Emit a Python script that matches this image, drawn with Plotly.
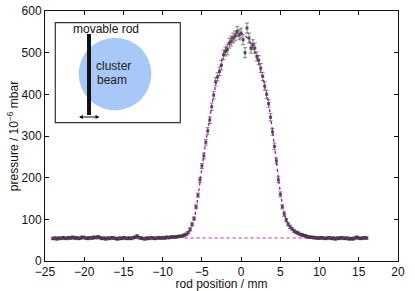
import plotly.graph_objects as go

# ---------------- data ----------------
rod_pos = [
    -24.00, -23.75, -23.50, -23.25, -23.00, -22.75, -22.50, -22.25, -22.00, -21.75,
    -21.50, -21.25, -21.00, -20.75, -20.50, -20.25, -20.00, -19.75, -19.50, -19.25,
    -19.00, -18.75, -18.50, -18.25, -18.00, -17.75, -17.50, -17.25, -17.00, -16.75,
    -16.50, -16.25, -16.00, -15.75, -15.50, -15.25, -15.00, -14.75, -14.50, -14.25,
    -14.00, -13.75, -13.50, -13.25, -13.00, -12.75, -12.50, -12.25, -12.00, -11.75,
    -11.50, -11.25, -11.00, -10.75, -10.50, -10.25, -10.00, -9.75, -9.50, -9.25,
    -9.00, -8.75, -8.50, -8.25, -8.00, -7.75, -7.50, -7.25, -7.00, -6.75,
    -6.50, -6.25, -6.00, -5.75, -5.50, -5.25, -5.00, -4.75, -4.50, -4.25,
    -4.00, -3.75, -3.50, -3.25, -3.00, -2.75, -2.50, -2.25, -2.00, -1.75,
    -1.50, -1.25, -1.00, -0.75, -0.50, -0.25, 0.00, 0.25, 0.50, 0.75,
    1.00, 1.25, 1.50, 1.75, 2.00, 2.25, 2.50, 2.75, 3.00, 3.25,
    3.50, 3.75, 4.00, 4.25, 4.50, 4.75, 5.00, 5.25, 5.50, 5.75,
    6.00, 6.25, 6.50, 6.75, 7.00, 7.25, 7.50, 7.75, 8.00, 8.25,
    8.50, 8.75, 9.00, 9.25, 9.50, 9.75, 10.00, 10.25, 10.50, 10.75,
    11.00, 11.25, 11.50, 11.75, 12.00, 12.25, 12.50, 12.75, 13.00, 13.25,
    13.50, 13.75, 14.00, 14.25, 14.50, 14.75, 15.00, 15.25, 15.50, 15.75,
    16.00,
]
pressure = [
    54, 55, 53, 55, 54, 56, 55, 54, 56, 55,
    57, 55, 56, 54, 55, 57, 56, 55, 54, 56,
    55, 57, 56, 58, 56, 54, 55, 53, 55, 54,
    56, 55, 54, 53, 55, 54, 56, 55, 54, 55,
    54, 56, 57, 60, 56, 55, 54, 53, 55, 54,
    56, 55, 54, 55, 56, 55, 56, 55, 57, 56,
    57, 58, 57, 58, 59, 59, 60, 62, 64, 68,
    76, 88, 102, 130, 158, 195, 228, 252, 285, 312,
    338, 370, 398, 430, 442, 455, 470, 495, 503, 507,
    523, 528, 535, 540, 551, 543, 547, 531, 500, 559,
    535, 511, 519, 511, 491, 482, 463, 443, 420, 400,
    378, 345, 310, 275, 240, 195, 160, 130, 112, 98,
    88, 82, 77, 72, 69, 67, 64, 63, 61, 60,
    58, 57, 57, 56, 56, 55, 55, 56, 55, 54,
    55, 56, 54, 55, 53, 55, 54, 56, 55, 54,
    55, 53, 54, 53, 55, 57, 55, 54, 55, 56,
    55,
]
pressure_err = [
    3, 3, 3, 3, 3, 3, 3, 3, 3, 3,
    3, 3, 3, 3, 3, 3, 3, 3, 3, 3,
    3, 3, 3, 3, 3, 3, 3, 3, 3, 3,
    3, 3, 3, 3, 3, 3, 3, 3, 3, 3,
    3, 3, 3, 3, 3, 3, 3, 3, 3, 3,
    3, 3, 3, 3, 3, 3, 3, 3, 3, 3,
    3, 3, 3, 3, 3, 3, 3, 3, 3, 3,
    4, 4, 4, 5, 5, 6, 6, 7, 7, 8,
    8, 9, 9, 10, 10, 10, 11, 11, 11, 12,
    12, 12, 12, 12, 12, 12, 12, 12, 12, 12,
    12, 12, 12, 12, 11, 11, 11, 10, 10, 10,
    9, 9, 8, 8, 7, 7, 6, 5, 5, 4,
    4, 4, 3, 3, 3, 3, 3, 3, 3, 3,
    3, 3, 3, 3, 3, 3, 3, 3, 3, 3,
    3, 3, 3, 3, 3, 3, 3, 3, 3, 3,
    3, 3, 3, 3, 3, 3, 3, 3, 3, 3,
    3,
]

fit_pos = [-24, -16, -10, -9, -8, -7.5, -7, -6.5, -6, -5.5, -5, -4.5, -4, -3.5, -3,
           -2.5, -2, -1.5, -1, -0.5, 0, 0.5, 1, 1.5, 2, 2.5, 3, 3.5, 4, 4.5, 5,
           5.5, 6, 6.5, 7, 7.5, 8, 8.5, 9, 10, 12, 16]
fit_pressure = [55, 55, 55.5, 56, 57.5, 59, 63, 74, 100, 155, 222, 285, 342, 398, 442,
                480, 508, 527, 540, 547, 547, 541, 530, 512, 488, 458, 422, 378, 312, 238, 165,
                115, 89, 75, 67, 62, 58.5, 57, 56, 55.5, 55, 55]

baseline_pos = [-7.2, 9.5]
baseline_pressure = [55, 55]

x_ticks = [-25, -20, -15, -10, -5, 0, 5, 10, 15, 20]
y_ticks = [0, 100, 200, 300, 400, 500, 600]

# ---------------- figure ----------------
W, H = 415, 291
ML, MR, MT, MB = 45, 17, 11, 30
PW, PH = W - ML - MR, H - MT - MB


def px(xp):
    return (xp - ML) / PW


def py(yp):
    return (H - MB - yp) / PH


fig = go.Figure()

fig.add_trace(go.Scatter(
    x=baseline_pos, y=baseline_pressure, mode="lines",
    line=dict(color="#d070d0", width=1.5, dash="dot"),
    showlegend=False, hoverinfo="skip"))

fig.add_trace(go.Scatter(
    x=rod_pos, y=pressure, mode="markers",
    marker=dict(symbol="square", size=3, color="rgba(50,50,50,0.8)"),
    error_y=dict(type="data", array=pressure_err, visible=True,
                 color="rgba(70,70,70,0.65)", thickness=1, width=2),
    showlegend=False))

fig.add_trace(go.Scatter(
    x=fit_pos, y=fit_pressure, mode="lines", line_shape="spline",
    line=dict(color="#a0149a", width=1.3, dash="dot"),
    showlegend=False, hoverinfo="skip"))

# inset illustration
shapes = [
    dict(type="rect", xref="paper", yref="paper",
         x0=px(55.3), x1=px(180.3), y0=py(122.7), y1=py(22.7),
         line=dict(color="#333333", width=1.2), fillcolor="white", layer="above"),
    dict(type="circle", xref="paper", yref="paper",
         x0=px(78.7), x1=px(151.3), y0=py(110.3), y1=py(37.7),
         line=dict(width=0), fillcolor="#a8c8f8", layer="above"),
    dict(type="rect", xref="paper", yref="paper",
         x0=px(87), x1=px(91), y0=py(115), y1=py(34),
         line=dict(width=0), fillcolor="#111111", layer="above"),
]

font = "Liberation Sans, Arial, sans-serif"
annotations = [
    dict(xref="paper", yref="paper", x=px(106), y=py(29.5), text="movable rod",
         xanchor="center", yanchor="middle",
         showarrow=False, font=dict(size=12, color="#111", family=font)),
    dict(xref="paper", yref="paper", x=px(113), y=py(66), text="cluster",
         xanchor="center", yanchor="middle",
         showarrow=False, font=dict(size=12, color="#222", family=font)),
    dict(xref="paper", yref="paper", x=px(112), y=py(80), text="beam",
         xanchor="center", yanchor="middle",
         showarrow=False, font=dict(size=12, color="#222", family=font)),
    dict(xref="paper", yref="paper", x=px(99.5), y=py(117), ax=-22, ay=0,
         axref="pixel", ayref="pixel", text=" ", showarrow=True,
         arrowside="end+start", arrowhead=2, arrowsize=0.8, arrowwidth=1,
         arrowcolor="#111", font=dict(size=1)),
]

axis_common = dict(
    showgrid=False, zeroline=False, showline=True, linecolor="#111", linewidth=1,
    mirror="ticks", ticks="inside", ticklen=4, tickwidth=1, tickcolor="#111",
    tickfont=dict(size=12, color="#111", family=font), automargin=False,
)

fig.update_layout(
    width=W, height=H,
    margin=dict(l=ML, r=MR, t=MT, b=MB, pad=0, autoexpand=False),
    paper_bgcolor="white", plot_bgcolor="white",
    font=dict(family=font, size=12, color="#111"),
    xaxis=dict(range=[-25, 20], tickvals=x_ticks,
               title=dict(text="rod position / mm", standoff=0,
                          font=dict(size=12, family=font)),
               **axis_common),
    yaxis=dict(range=[0, 600], tickvals=y_ticks,
               title=dict(text="pressure / 10<sup>−6</sup> mbar", standoff=0,
                          font=dict(size=12, family=font)),
               **axis_common),
    shapes=shapes, annotations=annotations,
)

fig.write_html("out.html", config={"displayModeBar": False},
               post_script="document.body.style.margin='0';document.body.style.padding='0';")
